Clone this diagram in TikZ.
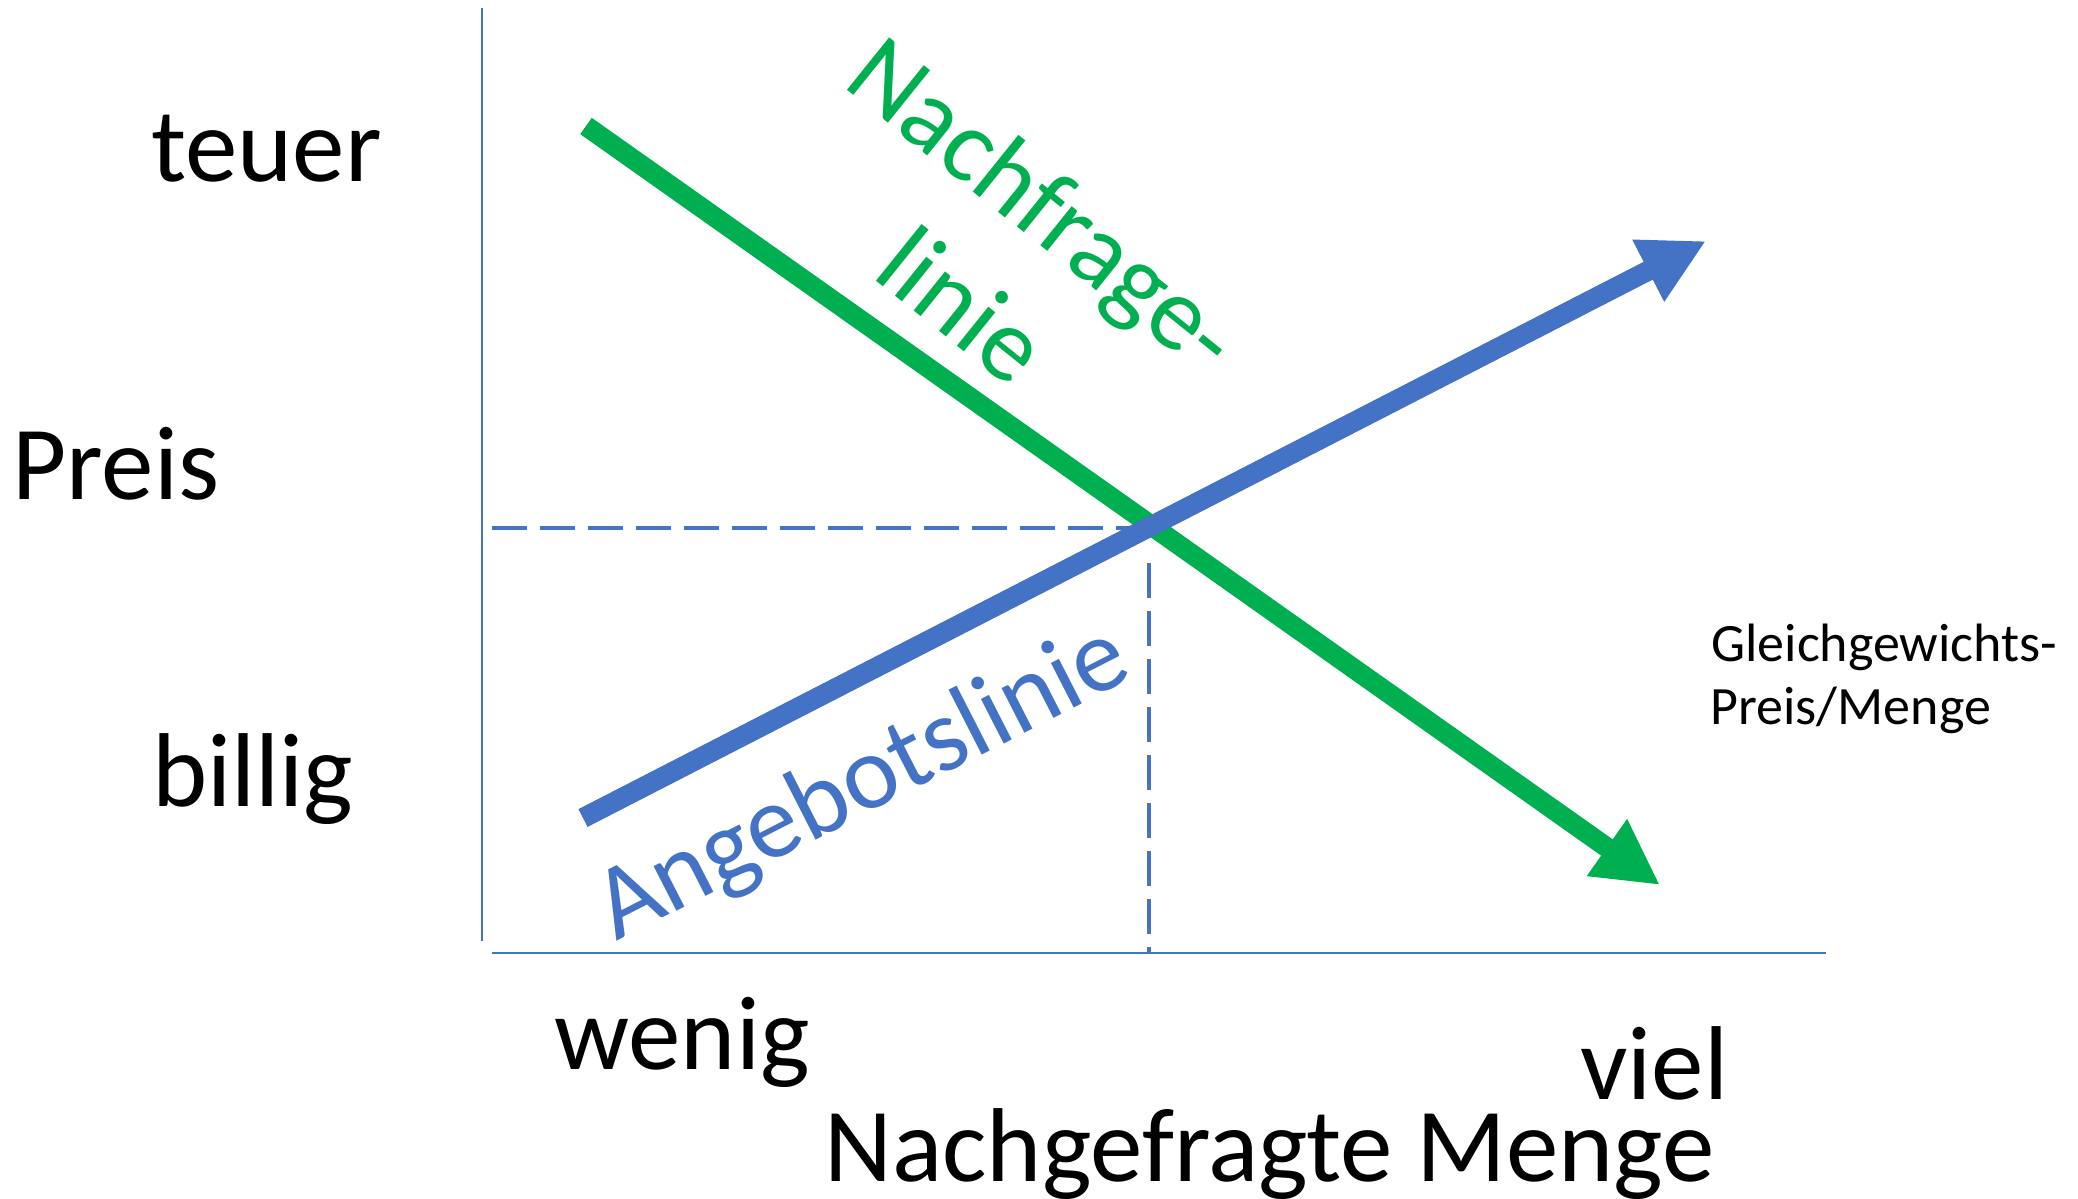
\documentclass[tikz,border=0pt]{standalone}
\usepackage{fontspec}
\setmainfont{Carlito}
\usetikzlibrary{arrows.meta}
\definecolor{offgreen}{HTML}{00B050}
\definecolor{offblue}{HTML}{4472C4}
\begin{document}
\begin{tikzpicture}[x=0.5pt,y=-0.5pt,
  big/.style={font=\fontsize{52.5}{63}\selectfont, inner sep=0pt, anchor=base west},
  small/.style={font=\fontsize{27}{33}\selectfont, inner sep=0pt, anchor=base west},
  axisline/.style={draw=offblue, line width=1pt},
  guide/.style={draw=offblue, line width=2pt, dash pattern=on 17.5pt off 6.5pt},
  curve/.style={line width=10pt, -{Triangle[length=32.5pt,width=32.5pt]}}]
\useasboundingbox (0,0) rectangle (2078,1199);
% axes
\coordinate (yTop) at (482,8);
\coordinate (yBot) at (482,941);
\coordinate (xL) at (492,953);
\coordinate (xR) at (1826,953);
\draw[axisline] (yTop) -- (yBot);
\draw[axisline, line width=1.2pt] (xL) -- (xR);
% guides
\coordinate (hS) at (492,528);
\coordinate (eq) at (1149,528);
\coordinate (vS) at (1149,563);
\coordinate (vE) at (1149,953);
\draw[guide] (hS) -- (eq);
\draw[guide] (vS) -- (vE);
% curves
\coordinate (gS) at (586,126);
\coordinate (gE) at (1660,885);
\coordinate (bS) at (583,818);
\coordinate (bE) at (1706,241);
\draw[curve, draw=offgreen, fill=offgreen] (gS) -- (gE);
\draw[curve, draw=offblue, fill=offblue] (bS) -- (bE);
% labels
\node[big] (teuer) at (151,181) {teuer};
\node[big] (preis) at (12,499) {Preis};
\node[big] (billig) at (152,806) {billig};
\node[big] (wenig) at (554,1069) {wenig};
\node[big] (viel) at (1580,1099) {viel};
\node[big] (menge) at (824,1181) {Nachgefragte Menge};
\node[small] (gg1) at (1711,661) {Gleichgewichts-};
\node[small] (gg2) at (1710,724) {Preis/Menge};
\node[big, anchor=base, rotate=-38.8, text=offgreen] (nf1) at (1023,232) {Nachfrage-};
\node[big, anchor=base, rotate=-38.8, text=offgreen] (nf2) at (941,333) {linie};
\node[big, anchor=base, rotate=27.1, text=offblue] (ang) at (876,809) {Angebotslinie};
\end{tikzpicture}
\end{document}
